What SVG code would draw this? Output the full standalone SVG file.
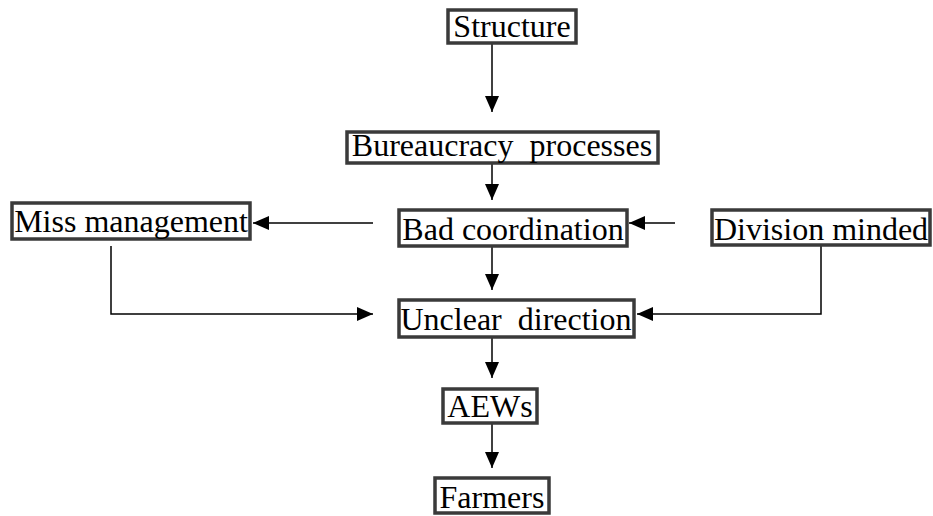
<svg xmlns="http://www.w3.org/2000/svg" width="933" height="516" viewBox="0 0 933 516">
<style>
.box{fill:#fff;stroke:#3a3a3a;stroke-width:3.5}
.lbl{font-family:"Liberation Serif","Times New Roman",serif;font-size:32px;fill:#000;text-anchor:middle;white-space:pre}
.ln{fill:none;stroke:#000;stroke-width:1.5}
</style>
<defs>
<marker id="ah" markerUnits="userSpaceOnUse" markerWidth="17" markerHeight="15" refX="16" refY="7" orient="auto">
<path d="M0,0 L16,7 L0,14 z" fill="#000"/>
</marker>
</defs>
<rect width="933" height="516" fill="#fff"/>
<g id="connectors">
<line class="ln" x1="492" y1="44" x2="492" y2="112" marker-end="url(#ah)"/>
<line class="ln" x1="492" y1="164" x2="492" y2="200" marker-end="url(#ah)"/>
<line class="ln" x1="373" y1="223" x2="253" y2="223" marker-end="url(#ah)"/>
<line class="ln" x1="675" y1="223" x2="629" y2="223" marker-end="url(#ah)"/>
<line class="ln" x1="492" y1="247" x2="492" y2="290" marker-end="url(#ah)"/>
<polyline class="ln" points="111,246 111,314 373,314" marker-end="url(#ah)"/>
<polyline class="ln" points="821,246 821,314 637,314" marker-end="url(#ah)"/>
<line class="ln" x1="492" y1="338" x2="492" y2="378" marker-end="url(#ah)"/>
<line class="ln" x1="492" y1="424" x2="492" y2="468" marker-end="url(#ah)"/>
</g>
<g id="structure">
<rect class="box" x="448" y="10" width="128" height="33"/>
<text class="lbl" x="512" y="37">Structure</text>
</g>
<g id="bureaucracy">
<rect class="box" x="347" y="132" width="311" height="31"/>
<text class="lbl" x="502" y="156">Bureaucracy  processes</text>
</g>
<g id="miss">
<rect class="box" x="12" y="203" width="238" height="36"/>
<text class="lbl" x="131" y="232">Miss management</text>
</g>
<g id="bad">
<rect class="box" x="399" y="210" width="228" height="36"/>
<text class="lbl" x="513" y="240">Bad coordination</text>
</g>
<g id="division">
<rect class="box" x="712" y="210" width="218" height="35"/>
<text class="lbl" x="821" y="240">Division minded</text>
</g>
<g id="unclear">
<rect class="box" x="399" y="300" width="235" height="37"/>
<text class="lbl" x="516" y="330">Unclear  direction</text>
</g>
<g id="aews">
<rect class="box" x="443" y="389" width="94" height="34"/>
<text class="lbl" x="490" y="417">AEWs</text>
</g>
<g id="farmers">
<rect class="box" x="435" y="478" width="114" height="35"/>
<text class="lbl" x="492" y="508">Farmers</text>
</g>
</svg>
